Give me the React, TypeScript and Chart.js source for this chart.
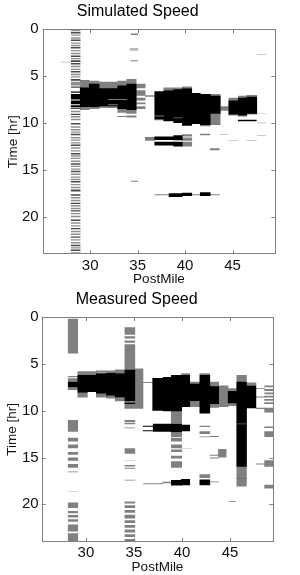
import React, { useEffect, useRef } from "react";
import { Chart, registerables } from "chart.js";
Chart.register(...registerables);

type Rect = [number, number, number, number]; // postmile from, postmile to, hour from, hour to
type Span = [number, number]; // hour from, hour to

const X_TICKS = [30, 35, 40, 45];
const Y_TICKS = [0, 5, 10, 15, 20];

// ---------- Simulated Speed ----------
const simColumnPM: [number, number] = [28.0, 28.95];
const simColDark: Span[] = [
  [0.3, 0.45], [1.1, 1.25], [1.9, 2.05], [2.8, 2.95], [3.3, 3.5], [3.6, 3.75], [4.45, 4.6], [5.3, 5.5],
  [6.1, 6.25], [6.6, 6.8], [8.35, 8.5], [9.0, 9.15], [10.0, 10.15], [11.15, 11.3], [12.3, 12.45],
  [13.2, 13.35], [14.3, 14.45], [15.1, 15.25], [16.2, 16.35], [17.1, 17.3], [17.6, 17.75], [18.5, 18.65],
  [19.3, 19.45], [20.3, 20.45], [21.2, 21.35], [22.1, 22.25], [23.0, 23.15], [23.5, 23.65],
];
const simColGray: Span[] = [
  [0.05, 0.2], [0.55, 0.7], [0.85, 1.0], [1.4, 1.55], [1.65, 1.8], [2.2, 2.35], [2.5, 2.65], [3.05, 3.2],
  [3.9, 4.05], [4.2, 4.35], [4.75, 4.9], [5.0, 5.15], [5.6, 6.0], [8.7, 8.85], [9.25, 9.4], [9.55, 9.7],
  [10.35, 10.5], [10.65, 10.8], [10.9, 11.05], [11.5, 11.65], [11.75, 11.9], [12.05, 12.2], [12.6, 12.75],
  [12.9, 13.05], [13.45, 13.6], [13.7, 13.85], [14.0, 14.15], [14.55, 14.7], [14.85, 15.0], [15.4, 15.55],
  [15.7, 15.85], [15.95, 16.1], [16.5, 16.65], [16.8, 16.95], [17.9, 18.05], [18.2, 18.35], [18.75, 18.9],
  [19.05, 19.2], [19.6, 19.75], [19.9, 20.05], [20.6, 20.75], [20.9, 21.05], [21.5, 21.65], [21.8, 21.95],
  [22.4, 22.55], [22.7, 22.85], [23.25, 23.4], [23.8, 23.95],
];
const simBlack: Rect[] = [
  [28.0, 28.95, 6.9, 7.5], [28.0, 28.95, 7.6, 8.0], [28.0, 28.95, 8.1, 8.3],
  [28.95, 29.9, 6.2, 8.3], [29.9, 30.95, 5.8, 8.3], [30.95, 31.9, 6.3, 8.2], [31.9, 32.9, 6.3, 8.2],
  [32.9, 33.85, 6.0, 8.5], [33.85, 34.85, 5.8, 8.6],
  [36.8, 37.75, 6.6, 9.6], [37.75, 38.8, 6.5, 9.8], [38.8, 39.7, 6.4, 10.0], [39.7, 40.7, 6.3, 10.3],
  [40.7, 41.6, 6.8, 10.1], [41.6, 42.65, 6.9, 10.2], [42.65, 43.7, 7.1, 9.0],
  [44.6, 45.6, 7.6, 9.1], [45.6, 46.5, 7.3, 9.2], [46.5, 47.55, 7.2, 9.0], [45.6, 47.5, 9.65, 9.8],
  [36.8, 38.8, 11.45, 11.8], [36.8, 38.8, 12.0, 12.4], [38.8, 39.7, 11.3, 11.85], [38.8, 39.7, 12.0, 12.5],
  [38.3, 39.7, 17.5, 17.9], [39.7, 40.7, 17.45, 17.8], [41.6, 42.65, 17.4, 17.8],
];
const simInner: Rect[] = [
  [31.9, 33.85, 7.45, 7.55], [31.9, 32.9, 8.0, 8.1], [36.8, 37.75, 9.2, 9.3], [38.8, 39.7, 9.4, 9.5],
];
const simGray: Rect[] = [
  [28.95, 29.9, 5.4, 8.6], [29.9, 30.95, 5.5, 8.5], [30.95, 31.9, 5.6, 8.4], [31.9, 32.9, 5.6, 8.4],
  [32.9, 33.85, 5.5, 8.9], [33.85, 34.85, 5.3, 9.0], [33.85, 34.85, 9.2, 9.4], [32.9, 33.85, 9.25, 9.35],
  [34.85, 35.8, 5.8, 6.3], [34.85, 35.8, 6.5, 7.1], [34.85, 35.8, 7.3, 7.6], [34.85, 35.8, 7.8, 8.0], [34.85, 35.8, 8.2, 8.5],
  [35.8, 36.8, 7.05, 7.2], [36.8, 37.75, 9.5, 9.7], [37.75, 39.7, 6.2, 6.5], [39.7, 40.7, 6.1, 6.3],
  [42.65, 43.7, 6.9, 10.2], [43.7, 44.6, 8.2, 8.7], [44.6, 45.6, 7.3, 9.2], [45.6, 46.5, 7.1, 9.3],
  [46.5, 47.55, 7.0, 9.1], [41.6, 42.65, 10.2, 10.35],
  [41.6, 42.6, 11.15, 11.3], [42.65, 43.6, 12.7, 12.9], [35.8, 36.8, 11.5, 11.9],
  [39.7, 40.7, 11.2, 11.45], [39.7, 40.7, 11.55, 11.9], [39.7, 40.7, 12.0, 12.5],
  [36.8, 38.3, 17.6, 17.72], [40.7, 41.6, 17.6, 17.7], [42.65, 43.6, 17.6, 17.7],
  [34.3, 35.0, 0.45, 0.6], [34.3, 35.0, 3.3, 3.42], [34.3, 35.0, 16.15, 16.28],
];
const simLight: Rect[] = [
  [34.2, 35.0, 2.0, 2.3], [27.0, 28.0, 3.45, 3.55], [47.6, 48.5, 2.65, 2.73], [43.7, 44.5, 11.2, 11.28],
  [44.6, 45.6, 11.85, 11.93], [46.5, 47.5, 11.85, 11.93], [47.6, 48.5, 11.3, 11.38], [47.6, 48.5, 9.95, 10.02],
  [47.6, 48.5, 8.95, 9.02],
];

// ---------- Measured Speed ----------
const measBlack: Rect[] = [
  [28.15, 29.15, 6.9, 7.5], [29.15, 30.15, 6.2, 8.1], [30.15, 31.1, 6.2, 8.0], [31.1, 32.15, 6.0, 8.2],
  [32.15, 33.05, 5.95, 8.4], [33.05, 34.05, 6.0, 8.6], [34.05, 35.1, 5.6, 9.0], [34.05, 35.1, 9.15, 9.3],
  [36.95, 38.05, 6.5, 10.0], [38.05, 38.9, 6.4, 10.05], [38.9, 39.95, 6.2, 10.1], [39.95, 40.8, 6.2, 9.6],
  [40.8, 41.85, 7.1, 9.0], [41.85, 42.9, 6.2, 10.3], [42.9, 43.8, 7.4, 9.3], [44.8, 45.7, 7.9, 9.2],
  [45.7, 46.7, 6.9, 16.0], [46.7, 47.7, 7.3, 9.75],
  [37.0, 38.9, 11.4, 12.25], [38.9, 39.95, 11.4, 12.3], [39.95, 40.8, 11.5, 12.2],
  [35.95, 36.95, 11.6, 11.72], [35.95, 36.95, 12.08, 12.2],
  [38.9, 39.95, 17.4, 18.0], [39.95, 40.8, 17.3, 17.95], [41.85, 42.9, 17.35, 17.95],
];
const measInner: Rect[] = [
  [45.7, 46.7, 11.38, 11.46], [45.7, 46.7, 17.2, 17.28],
];
const measGray: Rect[] = [
  [28.15, 29.15, 0.2, 3.9], [28.15, 29.15, 6.3, 6.42], [28.15, 29.15, 6.55, 6.9], [28.15, 29.15, 7.5, 7.8],
  [28.15, 29.15, 11.0, 12.25], [28.15, 29.15, 12.9, 13.3], [28.15, 29.15, 13.6, 14.0], [28.15, 29.15, 14.4, 14.7],
  [28.15, 29.15, 15.0, 15.35], [28.15, 29.15, 15.7, 16.1], [28.15, 29.15, 16.5, 16.58], [28.15, 29.15, 19.8, 20.4],
  [28.15, 29.15, 20.7, 20.95], [28.15, 29.15, 21.15, 21.4], [28.15, 29.15, 21.6, 21.85], [28.15, 29.15, 22.15, 22.9],
  [28.15, 29.15, 23.1, 24.0],
  [29.15, 31.1, 5.8, 6.2], [29.15, 30.15, 8.1, 8.6], [31.1, 33.05, 5.7, 5.95], [31.1, 32.15, 8.2, 8.6],
  [32.15, 33.05, 8.4, 8.7], [33.05, 34.05, 5.6, 6.0], [33.05, 34.05, 8.6, 9.0],
  [34.05, 35.1, 1.1, 1.9], [34.05, 35.1, 2.05, 2.3], [34.05, 35.1, 2.5, 2.75], [34.05, 35.1, 2.9, 5.6],
  [34.05, 35.1, 9.0, 9.8], [34.05, 35.1, 11.0, 11.2], [34.05, 35.1, 11.3, 11.45], [34.05, 35.1, 11.8, 11.88],
  [34.05, 35.1, 14.0, 14.6], [34.05, 35.1, 15.8, 15.95], [34.05, 35.1, 16.1, 16.2], [34.05, 35.1, 17.38, 17.46],
  [34.05, 35.1, 19.7, 19.9], [34.05, 35.1, 20.1, 20.4], [34.05, 35.1, 20.6, 20.9], [34.05, 35.1, 21.1, 21.5],
  [34.05, 35.1, 21.7, 22.0], [34.05, 35.1, 22.2, 22.5], [34.05, 35.1, 22.7, 23.0], [34.05, 35.1, 23.2, 23.5],
  [34.05, 35.1, 23.7, 24.0],
  [35.1, 35.95, 5.5, 9.8], [35.95, 36.95, 6.95, 7.05],
  [38.9, 39.95, 10.1, 11.4], [38.9, 39.95, 12.3, 12.8], [38.9, 39.95, 12.9, 13.3], [38.9, 39.95, 13.6, 14.0],
  [38.9, 39.95, 14.15, 14.4], [38.9, 39.95, 14.8, 15.1], [38.9, 39.95, 15.4, 16.1],
  [39.95, 40.8, 6.0, 6.2], [40.8, 41.85, 6.9, 7.1], [40.8, 41.85, 9.0, 9.6], [41.85, 42.9, 6.0, 6.2],
  [42.9, 43.8, 6.9, 9.7], [43.8, 44.8, 7.3, 9.6], [44.8, 45.7, 7.6, 9.5], [45.7, 46.7, 6.2, 18.1],
  [46.7, 47.7, 7.0, 7.3], [47.7, 48.6, 9.7, 9.82], [47.7, 48.6, 7.6, 7.7], [47.7, 48.6, 8.5, 8.6],
  [48.6, 49.5, 7.3, 7.5], [48.6, 49.5, 7.7, 7.9], [48.6, 49.5, 8.05, 8.25], [48.6, 49.5, 8.4, 8.6],
  [48.6, 49.5, 8.75, 8.95], [48.6, 49.5, 9.1, 9.3], [48.6, 49.5, 9.7, 10.2], [48.6, 49.5, 11.7, 11.85],
  [48.6, 49.5, 12.2, 12.8], [48.6, 49.5, 15.3, 16.0], [48.6, 49.5, 17.9, 18.3], [47.7, 48.6, 15.65, 15.75],
  [41.85, 42.9, 11.6, 11.75], [41.85, 42.9, 12.2, 12.5], [41.85, 42.9, 12.75, 12.85], [41.85, 42.9, 16.8, 17.2],
  [42.9, 43.8, 12.7, 12.8], [42.9, 43.8, 14.7, 14.8], [42.9, 43.8, 15.0, 15.1], [43.8, 44.6, 14.1, 15.0],
  [36.0, 38.0, 17.75, 17.85], [38.0, 38.9, 17.6, 17.75], [42.9, 43.8, 17.55, 17.65], [44.9, 45.6, 19.65, 19.72],
];
const measLight: Rect[] = [
  [28.15, 29.15, 18.6, 18.65], [34.05, 35.1, 15.3, 15.36], [39.95, 41.0, 14.05, 14.1],
];

const FONT = "'Liberation Sans', Arial, Helvetica, sans-serif";
// small horizontal overlap so neighbouring cells join without anti-aliasing seams
const SEAM = 0.05;

function rectSets(rects: Rect[], color: string) {
  return rects.map(([x0, x1, t0, t1]) => ({
    data: [{ x: x0 - SEAM, y: t0 }, { x: x1 + SEAM, y: t0 }],
    fill: { value: t1 },
    backgroundColor: color,
    borderColor: "rgba(0,0,0,0)",
    borderWidth: 0,
    pointRadius: 0,
    pointHoverRadius: 0,
  }));
}

function spansToRects(pm: [number, number], spans: Span[]): Rect[] {
  return spans.map(([t0, t1]) => [pm[0], pm[1], t0, t1] as Rect);
}

const boxPlugin = {
  id: "matlabBox",
  afterDraw(chart: any) {
    const { ctx, chartArea: a, scales } = chart;
    const x = scales.x, y = scales.y;
    ctx.save();
    ctx.strokeStyle = "#808080";
    ctx.lineWidth = 1;
    ctx.strokeRect(Math.round(a.left) + 0.5, Math.round(a.top) + 0.5, Math.round(a.right - a.left) - 1, Math.round(a.bottom - a.top) - 1);
    const L = 4;
    ctx.beginPath();
    for (const v of X_TICKS) {
      const px = Math.round(x.getPixelForValue(v)) + 0.5;
      ctx.moveTo(px, a.bottom); ctx.lineTo(px, a.bottom - L);
      ctx.moveTo(px, a.top); ctx.lineTo(px, a.top + L);
    }
    for (const v of Y_TICKS) {
      const py = Math.round(y.getPixelForValue(v)) + 0.5;
      ctx.moveTo(a.left, py); ctx.lineTo(a.left + L, py);
      ctx.moveTo(a.right, py); ctx.lineTo(a.right - L, py);
    }
    ctx.stroke();
    ctx.restore();
  },
};

type PanelProps = {
  title: string;
  layers: { rects: Rect[]; color: string }[];
  xMin: number;
  xMax: number;
  geom: { left: number; right: number; top: number; bottom: number; height: number; titleTop: number; yLabPad: number; yTitlePad: number; xLabPad: number };
};

function Panel({ title, layers, xMin, xMax, geom }: PanelProps) {
  const ref = useRef<HTMLCanvasElement>(null);
  useEffect(() => {
    if (!ref.current) return;
    const datasets: any[] = [];
    layers.forEach((l) => datasets.push(...rectSets(l.rects, l.color)));
    const titleH = 16 * 1.2;
    const chart = new Chart(ref.current, {
      type: "line",
      data: { datasets },
      options: {
        animation: false,
        responsive: true,
        maintainAspectRatio: false,
        events: [],
        layout: { padding: { left: 0, right: 300 - geom.right, top: 0, bottom: 0 } },
        plugins: {
          legend: { display: false },
          tooltip: { enabled: false },
          title: {
            display: true,
            text: title,
            color: "#000",
            font: { family: FONT, size: 16, weight: "normal" },
            padding: { top: geom.titleTop, bottom: geom.top - geom.titleTop - titleH },
          },
        },
        scales: {
          x: {
            type: "linear",
            min: xMin,
            max: xMax,
            afterBuildTicks: (s: any) => { s.ticks = X_TICKS.map((v) => ({ value: v })); },
            afterFit: (s: any) => { s.height = geom.height - geom.bottom; },
            grid: { display: false, drawTicks: false },
            border: { display: false },
            ticks: { color: "#111", font: { family: FONT, size: 15 }, padding: geom.xLabPad, maxRotation: 0, autoSkip: false },
            title: { display: true, text: "PostMile", color: "#111", font: { family: FONT, size: 13.5 }, padding: { top: 0, bottom: 0 } },
          },
          y: {
            type: "linear",
            min: 0,
            max: 24,
            reverse: true,
            afterBuildTicks: (s: any) => { s.ticks = Y_TICKS.map((v) => ({ value: v })); },
            afterFit: (s: any) => { s.width = geom.left; },
            grid: { display: false, drawTicks: false },
            border: { display: false },
            ticks: { color: "#111", font: { family: FONT, size: 15 }, padding: geom.yLabPad, autoSkip: false },
            title: { display: true, text: "Time [hr]", color: "#111", font: { family: FONT, size: 13.5 }, padding: { top: geom.yTitlePad, bottom: 0 } },
          },
        },
      } as any,
      plugins: [boxPlugin],
    });
    return () => chart.destroy();
  }, []);
  return (
    <div style={{ position: "relative", width: 300, height: geom.height }}>
      <canvas ref={ref} />
    </div>
  );
}

export default function App() {
  const simLayers = [
    { rects: simInner, color: "#7a7a7a" },
    { rects: simBlack, color: "#000000" },
    { rects: spansToRects(simColumnPM, simColDark), color: "#4a4a4a" },
    { rects: spansToRects(simColumnPM, simColGray), color: "#8f8f8f" },
    { rects: simGray, color: "#808080" },
    { rects: simLight, color: "#b8b8b8" },
  ];
  const measLayers = [
    { rects: measInner, color: "#6e6e6e" },
    { rects: measBlack, color: "#000000" },
    { rects: measGray, color: "#808080" },
    { rects: measLight, color: "#b8b8b8" },
  ];
  return (
    <div style={{ position: "absolute", left: 0, top: 0, width: 300, height: 575, background: "#fff" }}>
      <Panel
        title="Simulated Speed"
        layers={simLayers}
        xMin={25}
        xMax={49.5}
        geom={{ left: 42.7, right: 275.3, top: 29.3, bottom: 254.2, height: 287, titleTop: 2, yLabPad: 4, yTitlePad: 5, xLabPad: 3 }}
      />
      <Panel
        title="Measured Speed"
        layers={measLayers}
        xMin={25.4}
        xMax={49.5}
        geom={{ left: 41.7, right: 273.3, top: 30, bottom: 254.8, height: 288, titleTop: 3, yLabPad: 3, yTitlePad: 4, xLabPad: 2 }}
      />
    </div>
  );
}
